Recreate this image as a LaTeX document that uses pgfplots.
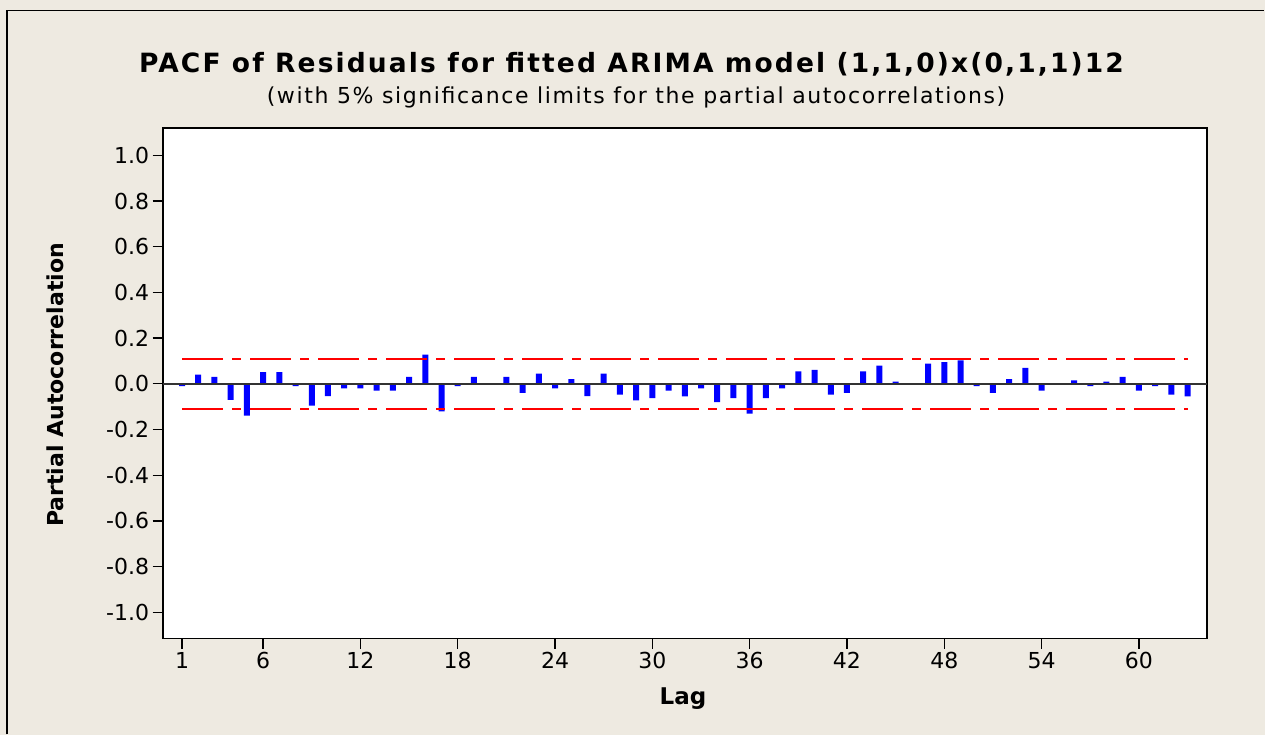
\documentclass[border=0pt]{standalone}
\usepackage{pgfplots}
\pgfplotsset{compat=1.18}
\usepackage{fontspec}
\setmainfont{DejaVu Sans}
\definecolor{bgc}{RGB}{238,234,225}
\pgfplotstableread{
lag val
1 -0.01
2 0.04
3 0.03
4 -0.07
5 -0.139
6 0.051
7 0.051
8 -0.01
9 -0.096
10 -0.054
11 -0.02
12 -0.02
13 -0.03
14 -0.03
15 0.03
16 0.128
17 -0.121
18 -0.01
19 0.03
20 -0.005
21 0.03
22 -0.04
23 0.044
24 -0.02
25 0.02
26 -0.054
27 0.044
28 -0.047
29 -0.073
30 -0.063
31 -0.03
32 -0.055
33 -0.02
34 -0.08
35 -0.063
36 -0.131
37 -0.063
38 -0.02
39 0.054
40 0.061
41 -0.047
42 -0.04
43 0.054
44 0.079
45 0.01
46 -0.005
47 0.088
48 0.095
49 0.102
50 -0.01
51 -0.04
52 0.02
53 0.07
54 -0.03
55 -0.005
56 0.015
57 -0.01
58 0.01
59 0.03
60 -0.03
61 -0.01
62 -0.047
63 -0.055
}\pacf
\begin{document}
\begin{tikzpicture}[x=1pt,y=1pt]
\fill[bgc] (0,0) rectangle (1265,735);
\draw[black, line width=1.2pt] (7,0.6) -- (7,724.3) -- (1264.4,724.3);
\node[anchor=base, inner sep=0pt, font=\fontsize{26.5}{30}\selectfont\bfseries\addfontfeature{LetterSpace=8.0}] at (631.5,662.3) {PACF of Residuals for fitted ARIMA model (1,1,0)x(0,1,1)12};
\node[anchor=base, inner sep=0pt, font=\fontsize{22}{26}\selectfont\addfontfeature{LetterSpace=7.2}] at (636,631.7) {(with 5\% significance limits for the partial autocorrelations)};
\begin{axis}[at={(162.7pt,96.3pt)}, anchor=south west, scale only axis,
  width=1044.3pt, height=510.7pt,
  xmin=-0.19, xmax=64.2, ymin=-1.1155, ymax=1.1195,
  axis background/.style={fill=white},
  axis line style={line width=1.6pt},
  xtick={1,6,12,18,24,30,36,42,48,54,60},
  ytick={-1,-0.8,-0.6,-0.4,-0.2,0,0.2,0.4,0.6,0.8,1},
  tick align=outside, major tick length=10pt,
  tick style={black, line width=1.3pt},
  xtick pos=bottom, ytick pos=left,
  /pgf/number format/assume math mode=true,
  yticklabel style={/pgf/number format/.cd, fixed, fixed zerofill, precision=1},
  ticklabel style={font=\fontsize{22}{26}\selectfont},
]
\addplot[ybar, fill=blue, draw=none, bar width=0.37] table[x=lag, y=val] {\pacf};
\addplot[black!80, line width=1.5pt] coordinates {(-0.19,0) (64.2,0)};
\addplot[red, line width=2pt, dash pattern=on 41pt off 9pt on 9pt off 9pt] coordinates {(1,0.109) (63,0.109)};
\addplot[red, line width=2pt, dash pattern=on 41pt off 9pt on 9pt off 9pt] coordinates {(1,-0.109) (63,-0.109)};
\end{axis}
\node[anchor=base, inner sep=0pt, font=\fontsize{23}{27}\selectfont\bfseries] at (683,30) {Lag};
\node[anchor=base, inner sep=0pt, rotate=90, font=\fontsize{22}{25}\selectfont\bfseries] at (63,350) {Partial Autocorrelation};
\end{tikzpicture}
\end{document}
